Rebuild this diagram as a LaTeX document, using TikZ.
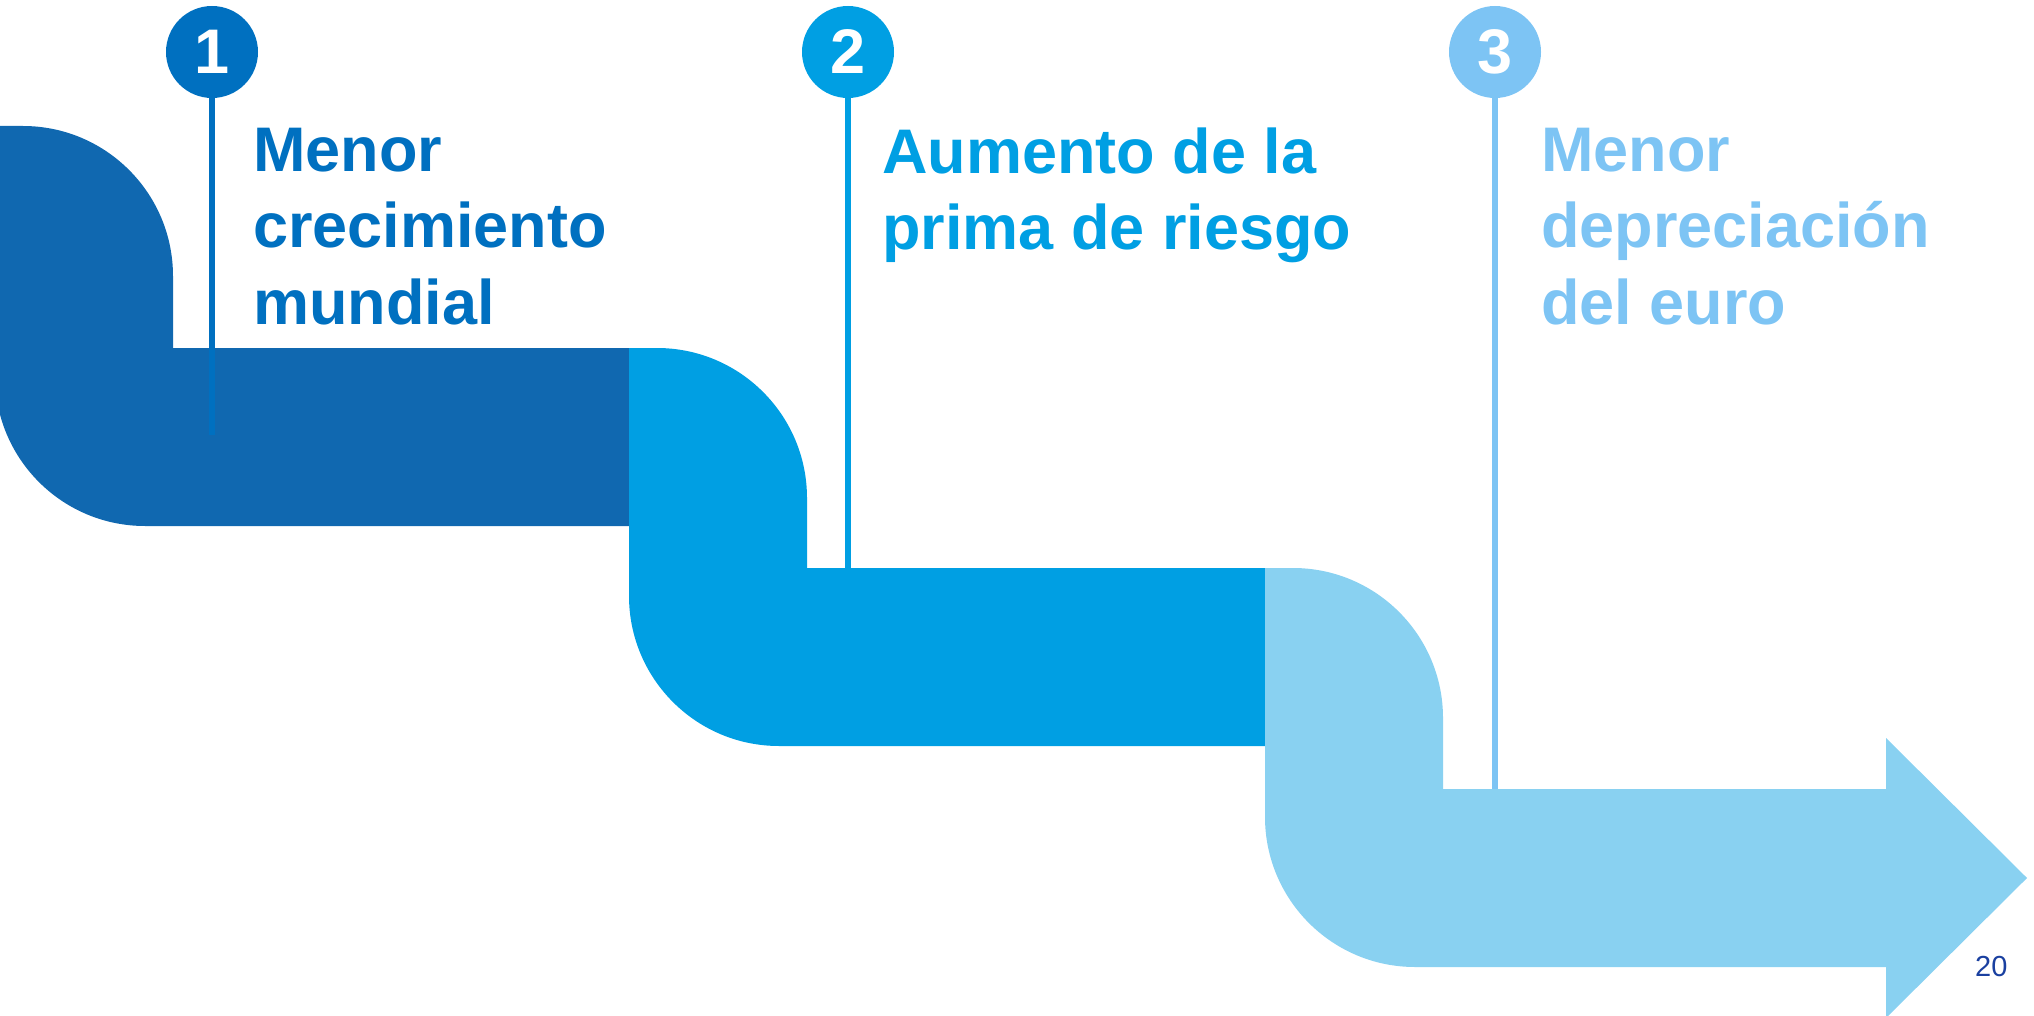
\documentclass[tikz,border=0pt]{standalone}
\usepackage{fontspec}
\setmainfont{Liberation Sans}
\definecolor{bandA}{HTML}{1068B0}
\definecolor{accA}{HTML}{0070C0}
\definecolor{bandB}{HTML}{009FE3}
\definecolor{accB}{HTML}{009FE3}
\definecolor{bandC}{HTML}{89D1F1}
\definecolor{accC}{HTML}{7DC4F4}
\definecolor{pagenum}{HTML}{1A40A0}
\begin{document}
\begin{tikzpicture}[x=1pt,y=-1pt,
  num/.style={circle,fill=#1,minimum size=92pt,inner sep=0pt,text=white,font=\fontsize{63}{63}\selectfont\bfseries},
  lbl/.style={anchor=north west,inner sep=0pt,align=left,text=#1,font=\fontsize{63}{76.5}\selectfont\bfseries},
  stem/.style={draw=#1,line width=5.5pt}
]
\useasboundingbox (0,0) rectangle (2034,1016);
\begin{scope}
\clip (0,0) rectangle (2034,1016);
\fill[bandA] (-5,126) -- (23,126) .. controls (105.8,126) and (173,193.2) .. (173,276) -- (173,348) -- (629,348) -- (629,526) -- (145,526) .. controls (62.2,526) and (-5,458.8) .. (-5,376) -- cycle;
\fill[bandB] (629,348) -- (657,348) .. controls (739.8,348) and (807,415.2) .. (807,498) -- (807,568) -- (1265,568) -- (1265,746) -- (779,746) .. controls (696.2,746) and (629,678.8) .. (629,596) -- cycle;
\fill[bandC] (1265,568) -- (1293,568) .. controls (1375.8,568) and (1443,635.2) .. (1443,718) -- (1443,789) -- (1886,789) -- (1886,738) -- (2027,878) -- (1886,1018) -- (1886,967) -- (1415,967) .. controls (1332.2,967) and (1265,899.8) .. (1265,817) -- cycle;
\end{scope}
\node[num=accA] (c1) at (212,52) {1};
\node[num=accB] (c2) at (848,52) {2};
\node[num=accC] (c3) at (1495,52) {3};
\coordinate (e1) at (212,435);
\coordinate (e2) at (848,568);
\coordinate (e3) at (1495,789);
\draw[stem=accA] (c1.south) -- (e1);
\draw[stem=accB] (c2.south) -- (e2);
\draw[stem=accC] (c3.south) -- (e3);
\node[lbl=accA] (t1) at (253,127.5) {Menor\\crecimiento\\mundial};
\node[lbl=accB] (t2) at (882,127.5) {Aumento de la\\prima de riesgo};
\node[lbl=accC] (t3) at (1541,127.5) {Menor\\depreciación\\del euro};
\node[anchor=north west,inner sep=0pt,text=pagenum,font=\fontsize{29}{29}\selectfont] (pg) at (1975,956.5) {20};
\end{tikzpicture}
\end{document}
